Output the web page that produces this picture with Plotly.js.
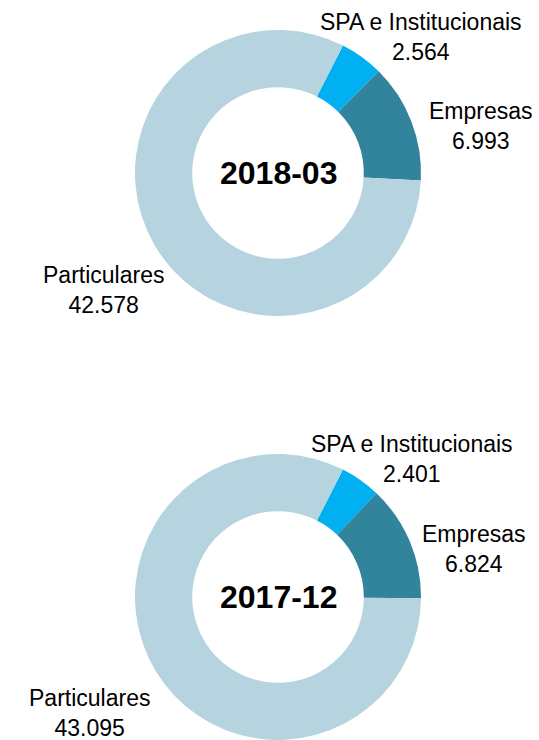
<!DOCTYPE html>
<html>
<head>
<meta charset="utf-8">
<script src="https://cdn.plot.ly/plotly-3.0.1.min.js"></script>
<style>
  html, body { margin: 0; padding: 0; background: #fff; }
  #chart { width: 539px; height: 740px; }
</style>
</head>
<body>
<div id="chart"></div>
<script>
// segment names, same order in both rings (clockwise from the SPA slice)
const categories = ["SPA e Institucionais", "Empresas", "Particulares"];
const colors = ["#00B0F0", "#31849B", "#B5D4DF"];

// period labels shown in the hole
const periods = ["2018-03", "2017-12"];

// values per period
const values2018 = [2564, 6993, 42578];
const values2017 = [2401, 6824, 43095];

const font = "Liberation Sans, Arial, sans-serif";

// thousands with a dot, like the original
function fmt(v) {
    return String(Math.round(v)).replace(/\B(?=(\d{3})+(?!\d))/g, ".");
}

function ring(vals, ydom) {
    return {
        type: "pie",
        labels: categories,
        values: vals,
        hole: 0.6,
        sort: false,
        direction: "clockwise",
        rotation: 27,
        textinfo: "none",
        hoverinfo: "label+value",
        marker: { colors: colors, line: { width: 0 } },
        domain: { x: [0.2505, 0.7811], y: ydom },
        showlegend: false
    };
}

const traces = [
    ring(values2018, [0.573, 0.9595]),
    ring(values2017, [0.0, 0.3865])
];

// label spots in page pixels, one per category, per ring
const labelPos2018 = [[421, 37], [481, 126], [103, 290]];
const labelPos2017 = [[412, 459], [474, 549], [89, 713]];

const W = 539, H = 740;
const annotations = [];

function addLabels(vals, pos) {
    categories.forEach((c, i) => {
        annotations.push({
            text: c + "<br>" + fmt(vals[i]),
            x: pos[i][0] / W, y: 1 - pos[i][1] / H,
            xref: "paper", yref: "paper",
            xanchor: "center", yanchor: "middle",
            showarrow: false,
            font: { family: font, size: 23, color: "#000" }
        });
    });
}
addLabels(values2018, labelPos2018);
addLabels(values2017, labelPos2017);

// period text in each hole
[[periods[0], 173], [periods[1], 597]].forEach(p => {
    annotations.push({
        text: "<b>" + p[0] + "</b>",
        x: 278 / W, y: 1 - p[1] / H,
        xref: "paper", yref: "paper",
        xanchor: "center", yanchor: "middle",
        showarrow: false,
        font: { family: font, size: 32, color: "#000" }
    });
});

const layout = {
    width: W,
    height: H,
    margin: { l: 0, r: 0, t: 0, b: 0 },
    paper_bgcolor: "#fff",
    plot_bgcolor: "#fff",
    annotations: annotations
};

Plotly.newPlot("chart", traces, layout, { displayModeBar: false, staticPlot: true });
</script>
</body>
</html>
